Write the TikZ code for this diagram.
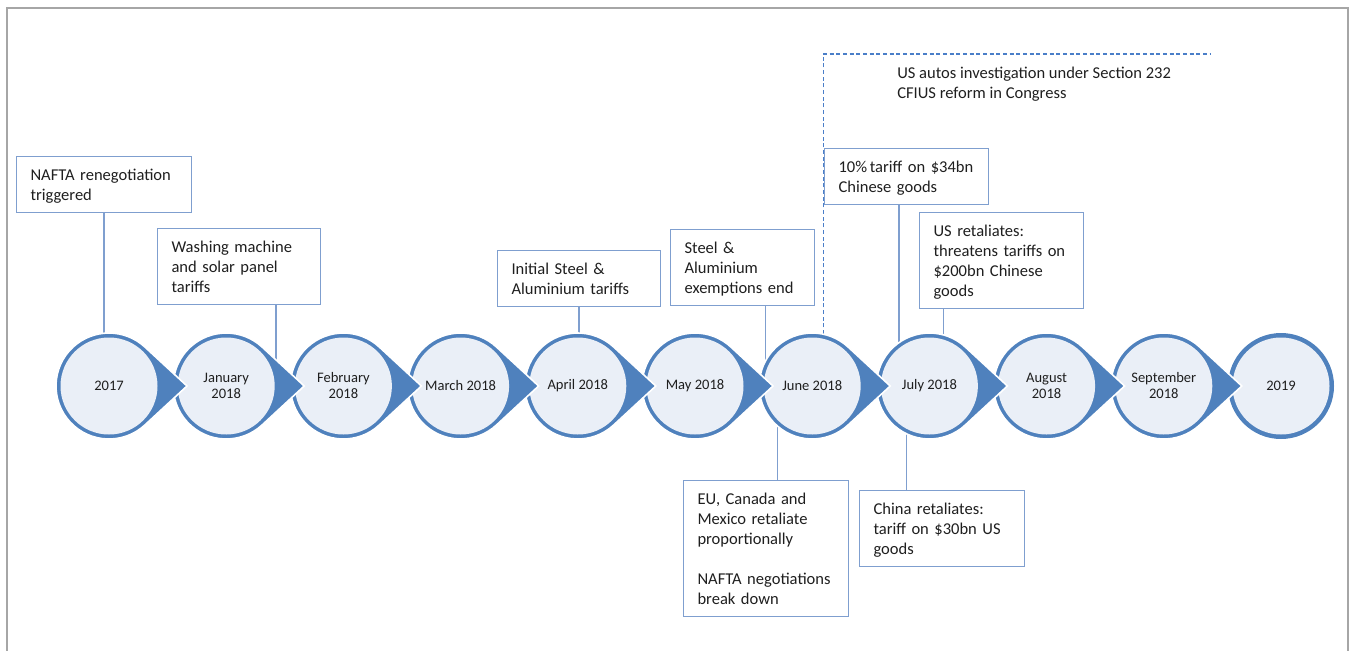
\documentclass[tikz,border=0pt]{standalone}
\usepackage{fontspec}
\setmainfont{Carlito}
\usepackage{tikz}
\usetikzlibrary{calc}
\definecolor{ringblue}{HTML}{4F81BD}
\definecolor{innerblue}{HTML}{EAEFF7}
\definecolor{boxblue}{HTML}{7F9FCF}
\definecolor{dashblue}{HTML}{4A7EC8}
\definecolor{framegray}{HTML}{A6A6A6}
\definecolor{inkgray}{HTML}{1F1F1F}
\pgfdeclarelayer{links}
\pgfdeclarelayer{discs}
\pgfsetlayers{links,discs,main}
\newcommand{\tstrut}{\rule{0pt}{13.5pt}}
\newcommand{\bstrut}{\rule[-4.5pt]{0pt}{4.5pt}}

\begin{document}
\begin{tikzpicture}[x=0.75pt, y=-0.75pt,
  month/.style={circle, minimum size=79.5pt, inner sep=0pt, outer sep=0pt, align=center, text=inkgray, font=\fontsize{10.9}{12}\selectfont},
  event/.style={draw=boxblue, line width=0.8pt, fill=white, anchor=north west, align=left, inner xsep=10.5pt, inner ysep=4.5pt, text=inkgray, font=\fontsize{12.4}{15}\selectfont},
  link/.style={draw=boxblue, line width=0.9pt}]
\useasboundingbox (0,0) rectangle (1349,650);
\draw[framegray, line width=1.5pt] (7,652) -- (7,8) -- (1348,8) -- (1348,652);

% months along the line
\foreach \lbl [count=\i from 0] in {2017, January\\2018, February\\2018, March 2018, April 2018, May 2018, June 2018, July 2018, August\\2018, September\\2018, 2019}
  \node[month] (m\i) at (109+117.2*\i, 386) {\lbl};

\begin{pgfonlayer}{discs}
\fill[ringblue] (m10) circle[radius=53];
\fill[innerblue] (m10) circle[radius=48.5];
\foreach \i in {9,8,...,0} {
  \filldraw[fill=ringblue, draw=white, line width=1.2pt] ($(m\i)+(47.2:53)$) arc[start angle=47.2, end angle=312.8, radius=53] -- ($(m\i)+(78,0)$) -- cycle;
  \fill[innerblue] (m\i) circle[radius=48.5];
}
\end{pgfonlayer}

% events
\node[event, text width=110.25pt] (nafta) at (16,156) {\tstrut NAFTA renegotiation\\triggered\bstrut};
\node[event, text width=101.25pt] (washing) at (157,228) {\tstrut Washing machine\\and solar panel\\tariffs\bstrut};
\node[event, text width=101.25pt] (steel) at (497,250) {\tstrut Initial Steel \&\\Aluminium tariffs\bstrut};
\node[event, text width=87pt] (exempt) at (670,229) {\tstrut Steel \&\\Aluminium\\exemptions end\bstrut};
\node[event, text width=102pt] (tariffa) at (824,148) {\tstrut\mbox{10\%\,tariff on \$34bn}\\Chinese goods\bstrut};
\node[event, text width=102pt] (usret) at (919,212) {\tstrut US retaliates:\\threatens tariffs on\\\$200bn Chinese\\goods\bstrut};
\node[event, text width=102.75pt] (eucan) at (683,480) {\tstrut EU, Canada and\\Mexico retaliate\\proportionally\\[15pt]NAFTA negotiations\\break down\bstrut};
\node[event, text width=102.75pt] (chinaret) at (859,490) {\tstrut China retaliates:\\tariff on \$30bn US\\goods\bstrut};
\node[anchor=north west, inner sep=0pt, align=left, text=inkgray, font=\fontsize{12.4}{15}\selectfont] (autos) at (897,67) {US autos investigation under Section 232\\CFIUS reform in Congress};
\coordinate (dashend) at (1210,54);

\begin{pgfonlayer}{links}
\draw[link] (nafta.south) -- (nafta.south |- m0.north);
\draw[link] (washing.south -| m1.20) -- (m1.20);
\draw[link] (steel.south) -- (steel.south |- m4.north);
\draw[link] (exempt.south -| m6.152) -- (m6.152);
\draw[link] (tariffa.south -| m7.125) -- (m7.125);
\draw[link] (usret.south -| m7.75) -- (m7.75);
\draw[link] (m6.229) -- (m6.229 |- eucan.north);
\draw[link] (m7.244) -- (m7.244 |- chinaret.north);
\draw[dashblue, line width=1pt, dash pattern=on 3pt off 2pt] (m6.78) |- (dashend);
\end{pgfonlayer}
\end{tikzpicture}
\end{document}
